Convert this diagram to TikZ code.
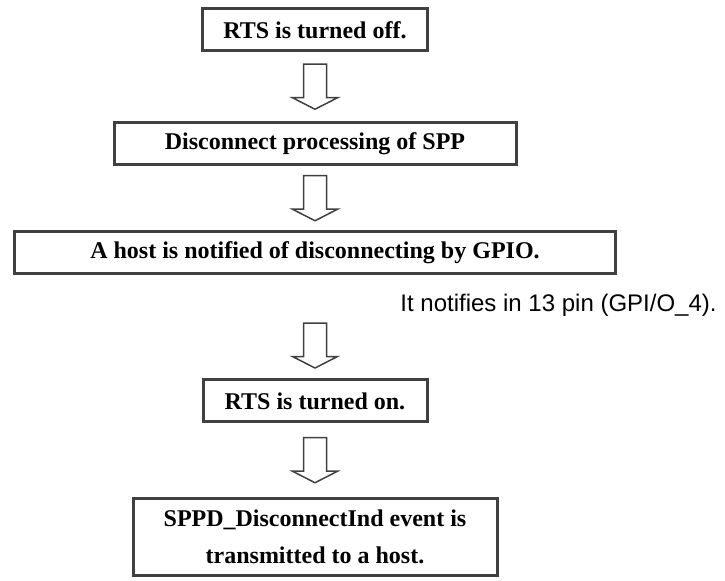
\documentclass[tikz,border=0pt]{standalone}
\usepackage{fontspec}
\setmainfont{Liberation Serif}
\setsansfont{Liberation Sans}
\usetikzlibrary{calc}

\definecolor{boxline}{HTML}{404040}

\begin{document}
\begin{tikzpicture}[
    x=0.5pt, y=-0.5pt,
    stepbox/.style={draw=boxline, line width=1.5pt, fill=white, align=center,
                    inner sep=0pt, minimum height=21pt,
                    font=\bfseries\fontsize{12}{18.5}\selectfont},
    note/.style={font=\sffamily\fontsize{12}{14}\selectfont, inner sep=0pt},
    downarrow/.pic={\draw[boxline, line width=0.75pt, line join=miter]
        (-11.5,-22.5) -- (-11.5,11) -- (-22.5,11) -- (0,22.5) -- (22.5,11)
        -- (11.5,11) -- (11.5,-22.5) -- cycle;},
]
\useasboundingbox (0,0) rectangle (725,581);

% Steps, top to bottom (units: px of the page, y downwards)
\node[stepbox, minimum width=112.5pt] at (315, 30)  (rtsoff) {RTS is turned off.};
\node[stepbox, minimum width=201pt]   at (315,143.5) (discon) {Disconnect processing of SPP};
\node[stepbox, minimum width=300.5pt] at (315,253)  (gpio)   {A host is notified of disconnecting by GPIO.};
\node[stepbox, minimum width=112pt]   at (315,401)  (rtson)  {RTS is turned on.};
\node[stepbox, minimum width=182pt, minimum height=38.5pt]
                                      at (315,537)  (event)  {SPPD\_DisconnectInd event is\\transmitted to a host.};

% Side note
\node[note, anchor=east] at (717,305) (pinnote) {It notifies in 13 pin (GPI/O\_4).};

% Hollow arrows between steps
\coordinate (a1) at ($(rtsoff.south)!0.5!(discon.north)$);
\coordinate (a2) at ($(discon.south)!0.5!(gpio.north)$);
\coordinate (a3) at ($(gpio.south)!0.68!(rtson.north)$);
\coordinate (a4) at ($(rtson.south)!0.5!(event.north)$);
\pic at (a1) {downarrow};
\pic at (a2) {downarrow};
\pic at (a3) {downarrow};
\pic at (a4) {downarrow};
\end{tikzpicture}
\end{document}
